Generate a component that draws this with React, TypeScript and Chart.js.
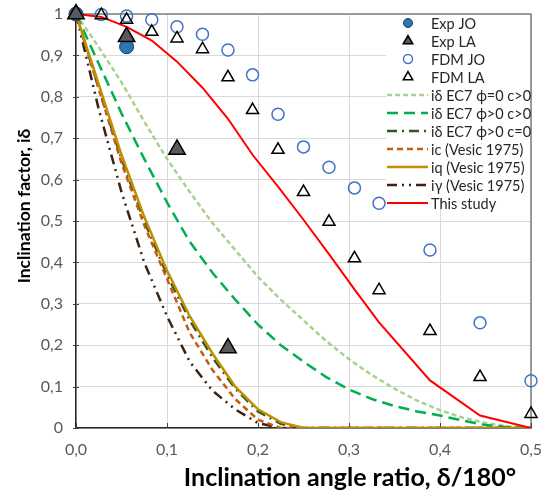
import React, { useEffect, useRef } from "react";
import { Chart, registerables } from "chart.js";

Chart.register(...registerables);

// ---- Data ----
const curveX = [0, 0.025, 0.05, 0.075, 0.1, 0.125, 0.15, 0.175, 0.2, 0.225, 0.25, 0.275, 0.3, 0.325, 0.35, 0.375, 0.4, 0.425, 0.45, 0.475, 0.5];
const ec7PhiZeroC = [1, 0.92, 0.835, 0.74, 0.65, 0.57, 0.495, 0.43, 0.365, 0.31, 0.26, 0.21, 0.166, 0.128, 0.095, 0.066, 0.043, 0.025, 0.012, 0.004, 0];
const ec7PhiPosC = [1, 0.88, 0.76, 0.65, 0.545, 0.45, 0.375, 0.31, 0.25, 0.2, 0.16, 0.123, 0.093, 0.07, 0.053, 0.04, 0.03, 0.018, 0.007, 0.002, 0];
const ec7PhiPosC0 = [1, 0.82, 0.65, 0.5, 0.37, 0.26, 0.17, 0.095, 0.04, 0.01, 0, 0, 0, 0, 0, 0, 0, 0, 0, 0, 0];
const vesicIc = [1, 0.82, 0.64, 0.49, 0.36, 0.23, 0.14, 0.07, 0.02, 0, 0, 0, 0, 0, 0, 0, 0, 0, 0, 0, 0];
const vesicIq = [1, 0.83, 0.66, 0.51, 0.38, 0.27, 0.18, 0.1, 0.045, 0.014, 0, 0, 0, 0, 0, 0, 0, 0, 0, 0, 0];
const vesicIg = [1, 0.77, 0.57, 0.4, 0.27, 0.16, 0.09, 0.045, 0.012, 0, 0, 0, 0, 0, 0, 0, 0, 0, 0, 0, 0];

const studyX = [0, 0.0278, 0.0556, 0.0833, 0.111, 0.139, 0.167, 0.194, 0.222, 0.25, 0.278, 0.306, 0.333, 0.389, 0.444, 0.5];
const studyY = [1, 0.993, 0.969, 0.936, 0.885, 0.822, 0.747, 0.66, 0.583, 0.503, 0.42, 0.335, 0.255, 0.115, 0.03, 0];

const fdmX = [0, 0.0278, 0.0556, 0.0833, 0.111, 0.139, 0.167, 0.194, 0.222, 0.25, 0.278, 0.306, 0.333, 0.389, 0.444, 0.5];
const fdmJO = [1, 0.999, 0.995, 0.986, 0.969, 0.951, 0.913, 0.853, 0.758, 0.679, 0.63, 0.58, 0.543, 0.43, 0.254, 0.114];
const fdmLA = [1, 0.997, 0.986, 0.957, 0.941, 0.915, 0.847, 0.768, 0.672, 0.57, 0.498, 0.41, 0.333, 0.234, 0.123, 0.034];

const expJOX = [0, 0.0556];
const expJOY = [1, 0.921];
const expLAX = [0, 0.0556, 0.111, 0.167];
const expLAY = [1, 0.945, 0.673, 0.193];

const xTicks = [0, 0.1, 0.2, 0.3, 0.4, 0.5];
const yTicks = [0, 0.1, 0.2, 0.3, 0.4, 0.5, 0.6, 0.7, 0.8, 0.9, 1];

const xTitle = "Inclination angle ratio, δ/180°";
const yTitle = "Inclination factor, iδ";

const FONT = "Lato, 'Liberation Sans', sans-serif";

const pts = (xs: number[], ys: number[]) => xs.map((x, i) => ({ x, y: ys[i] }));

const fmt = (v: number, alwaysDecimal: boolean) => {
  if (!alwaysDecimal) {
    if (Math.abs(v) < 1e-9) return "0";
    if (Math.abs(v - 1) < 1e-9) return "1";
  }
  return v.toFixed(1).replace(".", ",");
};

function drawMarker(ctx: CanvasRenderingContext2D, style: string, x: number, y: number, r: number, fill: string, stroke: string, lw: number) {
  ctx.save();
  ctx.beginPath();
  if (style === "triangle") {
    let rad = 0;
    ctx.moveTo(x + Math.sin(rad) * r, y - Math.cos(rad) * r);
    rad += (2 * Math.PI) / 3;
    ctx.lineTo(x + Math.sin(rad) * r, y - Math.cos(rad) * r);
    rad += (2 * Math.PI) / 3;
    ctx.lineTo(x + Math.sin(rad) * r, y - Math.cos(rad) * r);
    ctx.closePath();
  } else {
    ctx.arc(x, y, r, 0, Math.PI * 2);
  }
  ctx.fillStyle = fill;
  ctx.fill();
  ctx.lineWidth = lw;
  ctx.strokeStyle = stroke;
  ctx.stroke();
  ctx.restore();
}

const decorPlugin = {
  id: "decor",
  beforeDatasetsDraw(chart: any) {
    const ctx: CanvasRenderingContext2D = chart.ctx;
    const { left, right, top, bottom } = chart.chartArea;
    const xs = chart.scales.x;
    const ys = chart.scales.y;
    ctx.save();
    ctx.strokeStyle = "#7f7f7f";
    ctx.lineWidth = 1.5;
    ctx.beginPath();
    ctx.moveTo(left, top);
    ctx.lineTo(right, top);
    ctx.lineTo(right, bottom);
    ctx.stroke();
    ctx.strokeStyle = "#404040";
    ctx.lineWidth = 1;
    xTicks.forEach((t) => {
      const px = Math.round(xs.getPixelForValue(t)) + 0.5;
      ctx.beginPath();
      ctx.moveTo(px, bottom);
      ctx.lineTo(px, bottom - 5);
      ctx.stroke();
    });
    yTicks.forEach((t) => {
      const py = Math.round(ys.getPixelForValue(t)) + 0.5;
      ctx.beginPath();
      ctx.moveTo(left - 3, py);
      ctx.lineTo(left + 3, py);
      ctx.stroke();
    });

    const lx0 = 386;
    const ly0 = 15;
    ctx.fillStyle = "#ffffff";
    ctx.fillRect(lx0, ly0, right - lx0 - 1, 183);
    ctx.font = `14.5px ${FONT}`;
    ctx.textBaseline = "middle";
    ctx.textAlign = "left";
    chart.data.datasets.forEach((ds: any, i: number) => {
      const y = 23 + i * 18;
      if (ds.showLine === false) {
        drawMarker(ctx, ds.pointStyle, 408, y, ds.legendRadius, ds.pointBackgroundColor, ds.pointBorderColor, ds.pointBorderWidth);
      } else {
        ctx.save();
        ctx.strokeStyle = ds.borderColor;
        ctx.lineWidth = ds.borderWidth;
        ctx.setLineDash(ds.borderDash || []);
        ctx.beginPath();
        ctx.moveTo(387, y);
        ctx.lineTo(428, y);
        ctx.stroke();
        ctx.restore();
      }
      ctx.fillStyle = "#262626";
      ctx.fillText(ds.label, 431, y + 1);
    });
    ctx.restore();
  },
  afterDraw(chart: any) {
    const ctx: CanvasRenderingContext2D = chart.ctx;
    ctx.save();
    ctx.fillStyle = "#000000";
    ctx.textAlign = "center";
    ctx.textBaseline = "middle";
    ctx.font = `bold 25px ${FONT}`;
    ctx.fillText(xTitle, 350, 478);
    ctx.font = `bold 17.5px ${FONT}`;
    ctx.translate(24, 206);
    ctx.rotate(-Math.PI / 2);
    ctx.fillText(yTitle, 0, 0);
    ctx.restore();
  },
};

export default function App() {
  const ref = useRef<HTMLCanvasElement | null>(null);

  useEffect(() => {
    if (!ref.current) return;
    const lineBase = { showLine: true, pointRadius: 0, pointHoverRadius: 0, fill: false, tension: 0 };
    const markerBase = { showLine: false, clip: false as any, pointHoverRadius: 0 };

    const datasets: any[] = [
      {
        ...markerBase,
        label: "Exp JO",
        data: pts(expJOX, expJOY),
        pointStyle: "circle",
        pointRadius: 7,
        legendRadius: 4.5,
        pointBackgroundColor: "#2E75B6",
        pointBorderColor: "#1F3864",
        pointBorderWidth: 1,
        borderColor: "#2E75B6",
        order: 1,
      },
      {
        ...markerBase,
        label: "Exp LA",
        data: pts(expLAX, expLAY),
        pointStyle: "triangle",
        pointRadius: 9.5,
        legendRadius: 5.5,
        pointBackgroundColor: "#595959",
        pointBorderColor: "#000000",
        pointBorderWidth: 1.5,
        borderColor: "#000000",
        order: 0,
      },
      {
        ...markerBase,
        label: "FDM JO",
        data: pts(fdmX, fdmJO),
        pointStyle: "circle",
        pointRadius: 6,
        legendRadius: 4.5,
        pointBackgroundColor: "rgba(255,255,255,0)",
        pointBorderColor: "#4472C4",
        pointBorderWidth: 1.5,
        borderColor: "#4472C4",
        order: 3,
      },
      {
        ...markerBase,
        label: "FDM LA",
        data: pts(fdmX, fdmLA),
        pointStyle: "triangle",
        pointRadius: 7,
        legendRadius: 5.5,
        pointBackgroundColor: "rgba(255,255,255,0)",
        pointBorderColor: "#000000",
        pointBorderWidth: 1.5,
        borderColor: "#000000",
        order: 2,
      },
      {
        ...lineBase,
        label: "iδ EC7 ϕ=0 c>0",
        data: pts(curveX, ec7PhiZeroC),
        borderColor: "#A9D18E",
        borderWidth: 2.5,
        borderDash: [5, 3],
        order: 10,
      },
      {
        ...lineBase,
        label: "iδ EC7 ϕ>0 c>0",
        data: pts(curveX, ec7PhiPosC),
        borderColor: "#00B050",
        borderWidth: 2.5,
        borderDash: [11, 6],
        order: 9,
      },
      {
        ...lineBase,
        label: "iδ EC7 ϕ>0 c=0",
        data: pts(curveX, ec7PhiPosC0),
        borderColor: "#375623",
        borderWidth: 2.5,
        borderDash: [10, 5, 2, 5],
        order: 7,
      },
      {
        ...lineBase,
        label: "ic (Vesic 1975)",
        data: pts(curveX, vesicIc),
        borderColor: "#C55A11",
        borderWidth: 2.5,
        borderDash: [6, 4],
        order: 6,
      },
      {
        ...lineBase,
        label: "iq (Vesic 1975)",
        data: pts(curveX, vesicIq),
        borderColor: "#BF9000",
        borderWidth: 2.5,
        order: 5,
      },
      {
        ...lineBase,
        label: "iγ (Vesic 1975)",
        data: pts(curveX, vesicIg),
        borderColor: "#3B2314",
        borderWidth: 2.5,
        borderDash: [10, 5, 2, 5, 2, 5],
        order: 8,
      },
      {
        ...lineBase,
        label: "This study",
        data: pts(studyX, studyY),
        borderColor: "#FF0000",
        borderWidth: 2,
        order: 4,
      },
    ];

    const tickFont = { family: FONT, size: 16 };
    const chart = new Chart(ref.current, {
      type: "line",
      data: { datasets },
      options: {
        responsive: false,
        animation: false,
        events: [],
        layout: { padding: { top: 14, right: 13, left: 0, bottom: 0 } },
        plugins: { legend: { display: false }, tooltip: { enabled: false } },
        scales: {
          x: {
            type: "linear",
            min: 0,
            max: 0.5,
            afterBuildTicks: (s: any) => {
              s.ticks = xTicks.map((v) => ({ value: v }));
            },
            ticks: {
              color: "#595959",
              font: tickFont,
              padding: 12,
              maxRotation: 0,
              callback: (v: any) => fmt(Number(v), true),
            },
            grid: { color: "#d9d9d9", drawTicks: false, lineWidth: 1 },
            border: { color: "#262626", width: 1.5 },
            afterFit: (s: any) => {
              s.height = 62;
              s.paddingLeft = 0;
              s.paddingRight = 0;
            },
          },
          y: {
            type: "linear",
            min: 0,
            max: 1,
            afterBuildTicks: (s: any) => {
              s.ticks = yTicks.map((v) => ({ value: v }));
            },
            ticks: {
              color: "#595959",
              font: tickFont,
              padding: 13,
              callback: (v: any) => fmt(Number(v), false),
            },
            grid: { color: "#d9d9d9", drawTicks: false, lineWidth: 1 },
            border: { color: "#262626", width: 1.5 },
            afterFit: (s: any) => {
              s.width = 76;
              s.paddingTop = 0;
              s.paddingBottom = 0;
            },
          },
        },
      } as any,
      plugins: [decorPlugin],
    });
    return () => chart.destroy();
  }, []);

  return (
    <div style={{ position: "absolute", left: 0, top: 0, width: 544, height: 490, background: "#fff" }}>
      <canvas ref={ref} width={544} height={490} style={{ width: 544, height: 490, display: "block" }} />
    </div>
  );
}
